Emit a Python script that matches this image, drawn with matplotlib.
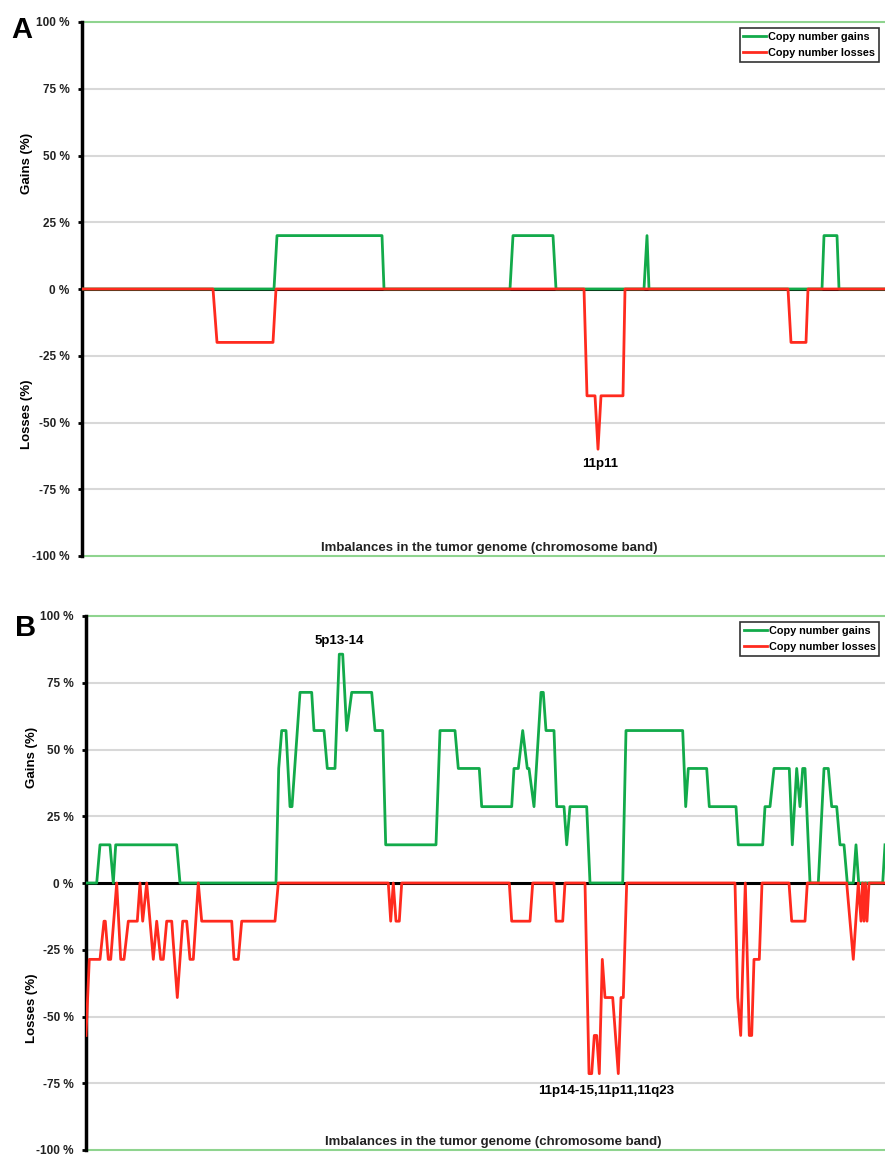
import numpy as np
import matplotlib
matplotlib.use("Agg")
import matplotlib.pyplot as plt
from matplotlib.transforms import blended_transform_factory

plt.rcParams['font.family'] = ['Liberation Sans', 'DejaVu Sans']

# panel A: 5 tumors, positions along the genome (band index units)
a_gain_pos = [0, 192, 195, 300, 302, 428, 431, 471, 474, 562, 565, 567, 740, 742, 755, 757, 803]
a_gain_val = [0, 0, 20, 20, 0, 0, 20, 20, 0, 0, 20, 0, 0, 20, 20, 0, 0]
a_loss_pos = [0, 131, 135, 191, 194, 502, 505, 513, 516, 519, 541, 543, 706, 709, 724, 726, 803]
a_loss_val = [0, 0, -20, -20, 0, 0, -40, -40, -60, -40, -40, 0, 0, -20, -20, 0, 0]

# panel B: 7 tumors
b_gain_pos = [0, 10.7, 14, 24, 27.3, 29.7, 90.7, 94, 190, 192.7, 195.7, 200, 204, 206,
              214, 225.7, 228, 238, 241.3, 249, 253.3, 256.7, 260.7, 265.7, 285.7, 289,
              296.7, 299.7, 350, 354, 369, 372.3, 393.3, 395.7, 425.7, 428, 432.3, 436.7,
              441.3, 443, 448, 455, 457.3, 460, 468, 470.7, 478, 480.7, 484, 500.7, 504,
              536.7, 540, 596.7, 599.7, 602.3, 620.7, 623.3, 650, 652.3, 676.7, 679, 684,
              688, 703.3, 706.3, 710.7, 714, 716.7, 719, 724, 732.3, 738, 742.3, 745.7,
              750.7, 754, 758, 761.3, 767.3, 770, 772.7, 796.7, 799]
b_gain_val = [0, 0, 14.3, 14.3, 0, 14.3, 14.3, 0, 0, 42.9, 57.1, 57.1, 28.6, 28.6,
              71.4, 71.4, 57.1, 57.1, 42.9, 42.9, 85.7, 85.7, 57.1, 71.4, 71.4, 57.1,
              57.1, 14.3, 14.3, 57.1, 57.1, 42.9, 42.9, 28.6, 28.6, 42.9, 42.9, 57.1,
              42.9, 42.9, 28.6, 71.4, 71.4, 57.1, 57.1, 28.6, 28.6, 14.3, 28.6, 28.6, 0,
              0, 57.1, 57.1, 28.6, 42.9, 42.9, 28.6, 28.6, 14.3, 14.3, 28.6, 28.6,
              42.9, 42.9, 14.3, 42.9, 28.6, 42.9, 42.9, 0, 0, 42.9, 42.9, 28.6,
              28.6, 14.3, 14.3, 0, 0, 14.3, 0, 0, 14.3]
b_loss_pos = [0, 3.3, 14, 18, 19.3, 22.3, 24.7, 30.7, 34.7, 38, 42.3, 51.3, 54, 56.7,
              60.7, 67.3, 70.7, 74.7, 77.3, 80.7, 85.7, 91.3, 96.7, 100.7, 104, 107.3,
              112.3, 115.7, 145.7, 148, 152.3, 155.7, 189, 192.3, 302.3, 304.7, 307.3,
              310, 313.3, 315.7, 423.3, 425.7, 444, 446.7, 468, 470, 476.7, 479, 499,
              503, 505.7, 508.3, 510.7, 513.3, 516.3, 519, 526.7, 532.3, 535, 537.3,
              540.7, 649, 651.7, 654.7, 659.3, 663.3, 665.7, 668, 673.3, 676, 703,
              705.7, 719, 721.3, 760.7, 767.3, 772.3, 775, 776.5, 778, 779.5, 781,
              783, 799]
b_loss_val = [-57.1, -28.6, -28.6, -14.3, -14.3, -28.6, -28.6, 0, -28.6, -28.6, -14.3,
              -14.3, 0, -14.3, 0, -28.6, -14.3, -28.6, -28.6, -14.3, -14.3, -42.9,
              -14.3, -14.3, -28.6, -28.6, 0, -14.3, -14.3, -28.6, -28.6, -14.3, -14.3,
              0, 0, -14.3, 0, -14.3, -14.3, 0, 0, -14.3, -14.3, 0, 0, -14.3, -14.3, 0,
              0, -71.4, -71.4, -57.1, -57.1, -71.4, -28.6, -42.9, -42.9, -71.4, -42.9,
              -42.9, 0, 0, -42.9, -57.1, 0, -57.1, -57.1, -28.6, -28.6, 0, 0, -14.3,
              -14.3, 0, 0, -28.6, 0, -14.3, 0, -14.3, 0, -14.3, 0, 0]

yticks = [100, 75, 50, 25, 0, -25, -50, -75, -100]
ytick_labels = ["100 %", "75 %", "50 %", "25 %", "0 %", "-25 %", "-50 %", "-75 %", "-100 %"]

GREEN = '#12aa4a'
RED = '#ff2a1e'

fig = plt.figure(figsize=(8.85, 11.55), dpi=100)
axA = fig.add_axes([82/885, 1-556/1155, 1-82/885, 534/1155])
axB = fig.add_axes([86/885, 1-1150/1155, 1-86/885, 534/1155])


def draw_panel(ax, gp, gv, lp, lv, xmax, letter, letter_xy):
    for y in [75, 50, 25, -25, -50, -75]:
        ax.axhline(y, color='#d8d8d8', lw=1.5, zorder=1)
    for y in [100, -100]:
        ax.axhline(y, color='#8fd48f', lw=1.5, zorder=1, clip_on=False)
    ax.axhline(0, color='black', lw=2.2, zorder=2)
    ax.plot(gp, gv, color=GREEN, lw=2, label='Copy number gains', zorder=3)
    ax.plot(lp, lv, color=RED, lw=2, label='Copy number losses', zorder=4)
    ax.set_xlim(0, xmax)
    ax.set_ylim(-100, 100)
    ax.set_xticks([])
    ax.set_yticks(yticks)
    ax.set_yticklabels(ytick_labels, fontsize=8.5, fontweight='bold', color='#222222')
    ax.tick_params(axis='y', length=3, width=2, pad=6)
    for s in ['top', 'right', 'bottom']:
        ax.spines[s].set_visible(False)
    ax.spines['left'].set_linewidth(2.5)
    tr = blended_transform_factory(ax.transAxes, ax.transData)
    ax.text(-0.068, 47, 'Gains (%)', rotation=90, ha='center', va='center',
            fontsize=9.5, fontweight='bold', transform=tr)
    ax.text(-0.068, -47, 'Losses (%)', rotation=90, ha='center', va='center',
            fontsize=9.5, fontweight='bold', transform=tr)
    ax.text(407, -97, 'Imbalances in the tumor genome (chromosome band)', ha='center',
            va='center', fontsize=9.5, fontweight='bold', color='#222222')
    leg = ax.legend(loc='upper left', bbox_to_anchor=(0.819, 0.988), fontsize=7.8,
                    frameon=True, fancybox=False, edgecolor='black', handlelength=2.1,
                    handletextpad=0.2, borderpad=0.33, labelspacing=0.55,
                    borderaxespad=0)
    leg.get_frame().set_linewidth(1.2)
    for t in leg.get_texts():
        t.set_fontweight('bold')
    fig.text(letter_xy[0], letter_xy[1], letter, fontsize=21, fontweight='bold',
             ha='left', va='top')


draw_panel(axA, a_gain_pos, a_gain_val, a_loss_pos, a_loss_val, 803, 'A',
           (11/885, 1-16/1155))
draw_panel(axB, b_gain_pos, b_gain_val, b_loss_pos, b_loss_val, 799, 'B',
           (15/885, 1-614/1155))

axA.text(518, -65.5, '11p11', ha='center', va='center', fontsize=9.5, fontweight='bold')
axB.text(253, 90.5, '5p13-14', ha='center', va='center', fontsize=9.5, fontweight='bold')
axB.text(520, -78, '11p14-15,11p11,11q23', ha='center', va='center', fontsize=9.5,
         fontweight='bold')

fig.savefig('out.png', dpi=100)
